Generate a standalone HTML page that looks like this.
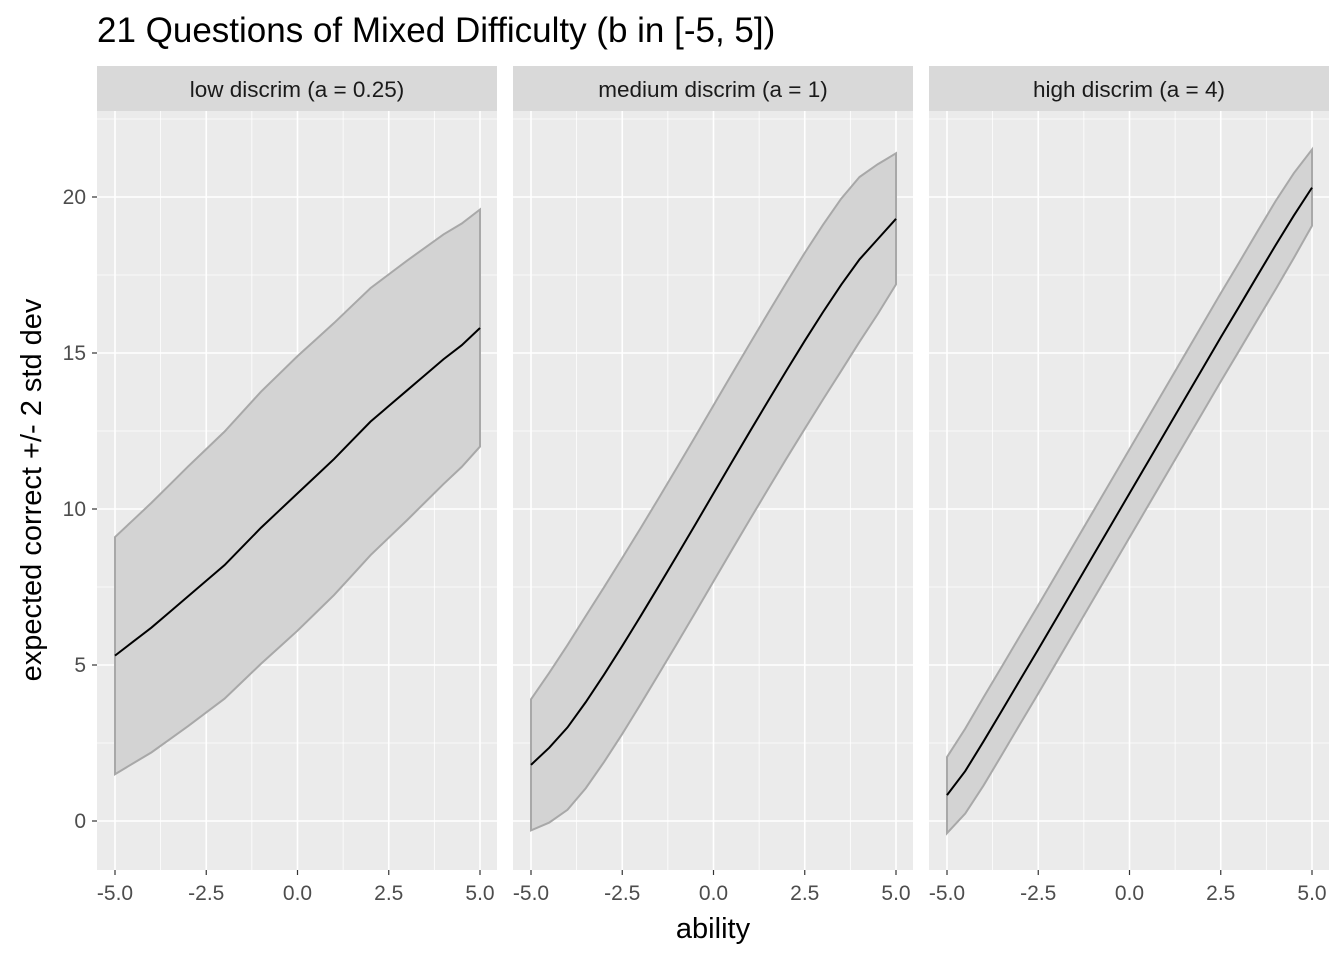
<!DOCTYPE html>
<html><head><meta charset="utf-8">
<style>
html,body{margin:0;padding:0;background:#fff;}
svg{display:block;font-family:"Liberation Sans",sans-serif;}
</style></head>
<body>
<svg id="chart" width="1344" height="960" viewBox="0 0 1344 960">
<text x="97" y="42" font-size="35" fill="#000">21 Questions of Mixed Difficulty (b in [-5, 5])</text>
<text x="713" y="938" font-size="29" text-anchor="middle" fill="#000">ability</text>
<text transform="translate(41,490) rotate(-90)" font-size="29" text-anchor="middle" fill="#000">expected correct +/- 2 std dev</text>
</svg>
<script>
const abilities = [-5,-4.5,-4,-3.5,-3,-2.5,-2,-1.5,-1,-0.5,0,0.5,1,1.5,2,2.5,3,3.5,4,4.5,5];
const panelLabels = ["low discrim (a = 0.25)","medium discrim (a = 1)","high discrim (a = 4)"];
const lowMean = [5.3,5.75,6.2,6.7,7.2,7.7,8.2,8.8,9.4,9.95,10.5,11.05,11.6,12.2,12.8,13.3,13.8,14.3,14.8,15.25,15.8];
const lowSd = [1.9,1.95,2.0,2.04,2.08,2.11,2.14,2.16,2.18,2.19,2.2,2.19,2.18,2.16,2.14,2.11,2.08,2.04,2.0,1.95,1.9];
const medMean = [1.8,2.35,3.0,3.81,4.69,5.61,6.56,7.53,8.51,9.5,10.5,11.5,12.49,13.47,14.44,15.39,16.31,17.19,18.0,18.65,19.3];
const medSd = [1.05,1.2,1.32,1.38,1.4,1.41,1.41,1.41,1.41,1.41,1.41,1.41,1.41,1.41,1.41,1.41,1.4,1.38,1.32,1.2,1.05];
const highMean = [0.83,1.6,2.55,3.53,4.52,5.5,6.5,7.5,8.5,9.5,10.5,11.5,12.5,13.5,14.5,15.5,16.48,17.47,18.45,19.4,20.3];
const highSd = [0.61,0.68,0.707,0.707,0.707,0.707,0.707,0.707,0.707,0.707,0.707,0.707,0.707,0.707,0.707,0.707,0.707,0.707,0.707,0.68,0.61];
const yTicks = [0,5,10,15,20];
const yMinor = [-2.5,2.5,7.5,12.5,17.5,22.5];
const xTicks = [-5,-2.5,0,2.5,5];
const xTickLabels = ["-5.0","-2.5","0.0","2.5","5.0"];
const xMinor = [-3.75,-1.25,1.25,3.75];

const svgEl = document.getElementById('chart');
const NS = 'http://www.w3.org/2000/svg';
function mk(tag, attrs, parent){
  const e = document.createElementNS(NS, tag);
  for (const k in attrs) e.setAttribute(k, attrs[k]);
  (parent||svgEl).appendChild(e);
  return e;
}
const panels = [
  {left:97, mean:lowMean, sd:lowSd},
  {left:513, mean:medMean, sd:medSd},
  {left:929, mean:highMean, sd:highSd}
];
const pw = 400, plotTop = 111, plotBottom = 870;
const yScale = v => 821 - v * 31.2;

panels.forEach((p, i) => {
  const xScale = v => p.left + 18 + (v + 5) * 36.5;
  const g = mk('g', {});
  
  
  const bg = mk('rect', {x:p.left, y:plotTop, width:pw, height:plotBottom-plotTop, fill:'#ebebeb'}, g);
  
  
  yMinor.forEach(v => { const y = yScale(v); if (y>plotTop && y<plotBottom) mk('line',{x1:p.left,x2:p.left+pw,y1:y,y2:y,stroke:'#fff','stroke-width':0.8},g); });
  xMinor.forEach(v => { const x = xScale(v); mk('line',{x1:x,x2:x,y1:plotTop,y2:plotBottom,stroke:'#fff','stroke-width':0.8},g); });
  yTicks.forEach(v => { const y = yScale(v); mk('line',{x1:p.left,x2:p.left+pw,y1:y,y2:y,stroke:'#fff','stroke-width':1.6},g); });
  xTicks.forEach(v => { const x = xScale(v); mk('line',{x1:x,x2:x,y1:plotTop,y2:plotBottom,stroke:'#fff','stroke-width':1.6},g); });
  const strip = mk('rect', {x:p.left, y:66, width:pw, height:45, fill:'#d9d9d9'}, g);
  
  
  const st = mk('text', {x:p.left+pw/2, y:97, 'font-size':22.5, 'text-anchor':'middle', fill:'#1a1a1a'}, g);
  st.textContent = panelLabels[i];
  
  
  const up = abilities.map((a,k) => xScale(a)+','+yScale(p.mean[k]+2*p.sd[k]));
  const lo = abilities.map((a,k) => xScale(a)+','+yScale(p.mean[k]-2*p.sd[k])).reverse();
  const rib = mk('polygon', {points: up.concat(lo).join(' '), fill:'#d3d3d3', stroke:'#a8a8a8', 'stroke-width':2}, g);
  
  
  const line = mk('polyline', {points: abilities.map((a,k) => xScale(a)+','+yScale(p.mean[k])).join(' '), fill:'none', stroke:'#000', 'stroke-width':2}, g);
  
  
  xTicks.forEach((v,k) => {
    const x = xScale(v);
    mk('line',{x1:x,x2:x,y1:plotBottom,y2:plotBottom+5,stroke:'#333','stroke-width':1.2},g);
    const t = mk('text',{x:x,y:900,'font-size':21,'text-anchor':'middle',fill:'#4d4d4d'},g);
    t.textContent = xTickLabels[k];
    
    
  });
});
yTicks.forEach(v => {
  const y = yScale(v);
  mk('line',{x1:92,x2:97,y1:y,y2:y,stroke:'#333','stroke-width':1.2});
  const t = mk('text',{x:86,y:y+7,'font-size':21,'text-anchor':'end',fill:'#4d4d4d'});
  t.textContent = String(v);
  
  
});
</script>
</body></html>
